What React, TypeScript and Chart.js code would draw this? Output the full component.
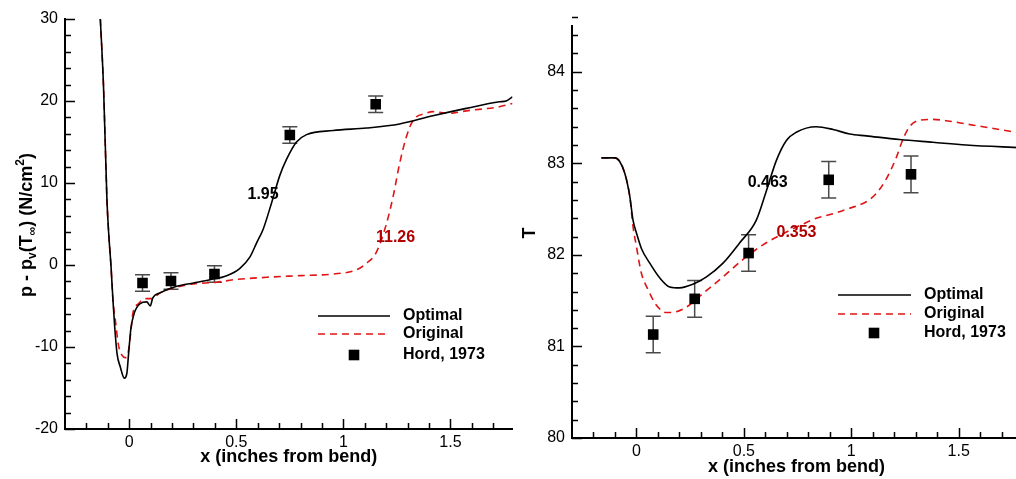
import React, { useEffect, useRef } from 'react';
import { Chart, registerables } from 'chart.js';

Chart.register(...registerables);

const FONT = '"Liberation Sans", Arial, Helvetica, sans-serif';
const RED = '#e01414';
const DARK_RED = '#b00000';

// ---- Pressure panel: p - p_v(T_inf) (N/cm^2) versus x (inches from bend)
const P_OPT_X = [-0.135, -0.12, -0.104, -0.096, -0.085, -0.076, -0.068, -0.057, -0.042, -0.023, -0.011, -0.003, 0.008, 0.023, 0.051, 0.082, 0.098, 0.11, 0.144, 0.222, 0.3, 0.377, 0.455, 0.517, 0.564, 0.595, 0.626, 0.665, 0.703, 0.735, 0.781, 0.828, 0.952, 1.108, 1.263, 1.418, 1.574, 1.729, 1.76, 1.79];
const P_OPT_Y = [30, 21.7, 7.9, 3.9, -0.2, -4.3, -7.5, -10.8, -12.4, -13.8, -13.2, -10.8, -7.7, -5.9, -4.7, -4.5, -5.0, -4.0, -3.4, -2.6, -2.2, -1.8, -1.3, -0.4, 1.0, 2.7, 4.4, 7.6, 10.9, 12.9, 15.0, 15.9, 16.4, 16.7, 17.2, 18.2, 19.1, 19.9, 20.0, 20.5];
const P_ORIG_X = [-0.135, -0.12, -0.104, -0.096, -0.085, -0.076, -0.065, -0.05, -0.034, -0.019, -0.006, 0.005, 0.017, 0.044, 0.075, 0.106, 0.144, 0.222, 0.3, 0.409, 0.487, 0.642, 0.797, 0.952, 1.06, 1.108, 1.155, 1.201, 1.232, 1.263, 1.294, 1.325, 1.387, 1.418, 1.496, 1.574, 1.729, 1.79];
const P_ORIG_Y = [30, 21.7, 7.9, 3.9, -0.2, -4.3, -6.7, -9.8, -11.0, -11.3, -10.8, -8.7, -5.9, -4.7, -4.1, -4.1, -3.4, -2.7, -2.3, -2.1, -1.8, -1.5, -1.3, -1.1, -0.6, 0.2, 1.6, 5.0, 8.3, 12.4, 15.6, 17.6, 18.5, 18.7, 18.5, 18.8, 19.3, 19.7];
const P_HORD_X = [0.062, 0.195, 0.398, 0.75, 1.151];
const P_HORD_Y = [-2.2, -1.95, -1.1, 15.85, 19.6];
const P_HORD_ERR = [1.0, 1.0, 1.0, 1.0, 1.0];
const P_Y_TICKS = [-20, -10, 0, 10, 20, 30];

// ---- Temperature panel: T versus x (inches from bend)
const T_OPT_X = [-0.163, -0.1, -0.078, -0.054, -0.031, -0.016, 0.0, 0.023, 0.062, 0.108, 0.155, 0.201, 0.263, 0.326, 0.403, 0.48, 0.558, 0.605, 0.651, 0.698, 0.744, 0.837, 0.915, 0.992, 1.07, 1.225, 1.38, 1.535, 1.79];
const T_OPT_Y = [83.06, 83.06, 83.02, 82.89, 82.64, 82.38, 82.24, 82.07, 81.91, 81.75, 81.65, 81.64, 81.68, 81.76, 81.91, 82.13, 82.38, 82.7, 83.03, 83.25, 83.34, 83.4, 83.37, 83.32, 83.3, 83.26, 83.23, 83.2, 83.17];
const T_ORIG_X = [-0.163, -0.1, -0.078, -0.054, -0.031, -0.016, 0.0, 0.023, 0.054, 0.093, 0.14, 0.186, 0.233, 0.31, 0.403, 0.496, 0.589, 0.682, 0.76, 0.837, 0.915, 0.992, 1.07, 1.116, 1.163, 1.209, 1.24, 1.271, 1.318, 1.38, 1.458, 1.535, 1.613, 1.79];
const T_ORIG_Y = [83.06, 83.06, 83.02, 82.89, 82.64, 82.31, 82.09, 81.8, 81.62, 81.45, 81.37, 81.38, 81.43, 81.58, 81.76, 81.95, 82.11, 82.23, 82.32, 82.4, 82.45, 82.51, 82.58, 82.67, 82.83, 83.06, 83.26, 83.4, 83.47, 83.48, 83.46, 83.43, 83.4, 83.33];
const T_HORD_X = [0.078, 0.271, 0.522, 0.895, 1.278];
const T_HORD_Y = [81.13, 81.52, 82.02, 82.82, 82.88];
const T_HORD_ERR = [0.2, 0.2, 0.2, 0.2, 0.2];
const T_Y_TICKS = [80, 81, 82, 83, 84];

const X_TICKS = [0, 0.5, 1, 1.5];
const LEGEND_LABELS = ['Optimal', 'Original', 'Hord, 1973'];

type Label = { x: number; y: number; text: string; color: string };
type TitlePiece = { text: string; size: number; shift: number };

type PanelSpec = {
  width: number;
  optX: number[]; optY: number[];
  origX: number[]; origY: number[];
  hordX: number[]; hordY: number[]; hordErr: number[];
  yMin: number; yMax: number; yTicks: number[]; yMinorStep: number;
  labels: Label[];
  yTitle: TitlePiece[];
  layout: {
    padTop: number; padRight: number; yAxisWidth: number; xAxisHeight: number;
    xTitleY: number; yTitleX: number; yTitleY: number; yTitleCentered: boolean;
    legendLine: [number, number]; legendMarkerX: number; legendTextX: number; legendY: number[];
  };
};

const zip = (xs: number[], ys: number[]) => xs.map((x, i) => ({ x, y: ys[i] }));

function makeDecor(p: PanelSpec) {
  return {
    id: 'decor',
    beforeDatasetsDraw(chart: any) {
      // error bars on the measured points
      const { ctx, scales } = chart;
      const xs = scales.x, ys = scales.y;
      ctx.save();
      ctx.strokeStyle = '#4a4a4a';
      ctx.lineWidth = 1.5;
      p.hordX.forEach((hx, i) => {
        const px = xs.getPixelForValue(hx);
        const top = ys.getPixelForValue(p.hordY[i] + p.hordErr[i]);
        const bot = ys.getPixelForValue(p.hordY[i] - p.hordErr[i]);
        ctx.beginPath();
        ctx.moveTo(px, top); ctx.lineTo(px, bot);
        ctx.moveTo(px - 7.5, top); ctx.lineTo(px + 7.5, top);
        ctx.moveTo(px - 7.5, bot); ctx.lineTo(px + 7.5, bot);
        ctx.stroke();
      });
      ctx.restore();
    },
    afterDraw(chart: any) {
      const { ctx, scales, chartArea } = chart;
      const xs = scales.x, ys = scales.y;
      const L = p.layout;
      ctx.save();

      // inward tick marks
      ctx.strokeStyle = '#000';
      ctx.lineWidth = 1.5;
      ctx.beginPath();
      for (let k = -2; k <= 17; k++) {
        const v = k / 10;
        const major = k % 5 === 0;
        const px = Math.round(xs.getPixelForValue(v)) + 0.5;
        ctx.moveTo(px, chartArea.bottom);
        ctx.lineTo(px, chartArea.bottom - (major ? 10 : 6));
      }
      const nMinor = Math.round((p.yMax - p.yMin) / p.yMinorStep);
      for (let k = 0; k <= nMinor; k++) {
        const v = p.yMin + k * p.yMinorStep;
        const major = p.yTicks.some((t) => Math.abs(t - v) < 1e-6);
        const py = Math.round(ys.getPixelForValue(v)) + 0.5;
        ctx.moveTo(chartArea.left, py);
        ctx.lineTo(chartArea.left + (major ? 10 : 6), py);
      }
      ctx.stroke();

      // contour value labels
      ctx.font = `bold 16px ${FONT}`;
      ctx.textAlign = 'center';
      ctx.textBaseline = 'middle';
      p.labels.forEach((lb) => {
        ctx.fillStyle = lb.color;
        ctx.fillText(lb.text, xs.getPixelForValue(lb.x), ys.getPixelForValue(lb.y));
      });

      // legend
      const ds = chart.data.datasets;
      ctx.textAlign = 'left';
      ctx.fillStyle = '#000';
      LEGEND_LABELS.forEach((text, i) => {
        const y = L.legendY[i];
        ctx.fillStyle = '#000';
        ctx.fillText(text, L.legendTextX, y);
        if (i < 2) {
          ctx.save();
          ctx.strokeStyle = ds[i].borderColor;
          ctx.lineWidth = ds[i].borderWidth;
          ctx.setLineDash(ds[i].borderDash || []);
          ctx.beginPath();
          ctx.moveTo(L.legendLine[0], y);
          ctx.lineTo(L.legendLine[1], y);
          ctx.stroke();
          ctx.restore();
        } else {
          const s = ds[i].pointRadius * Math.SQRT1_2;
          ctx.fillRect(L.legendMarkerX - s, y - s, 2 * s, 2 * s);
        }
      });

      // x axis title
      ctx.font = `bold 18px ${FONT}`;
      ctx.textAlign = 'center';
      ctx.fillText('x (inches from bend)', (chartArea.left + chartArea.right) / 2, L.xTitleY);

      // y axis title, read bottom to top
      ctx.translate(L.yTitleX, L.yTitleY);
      ctx.rotate(-Math.PI / 2);
      ctx.textAlign = 'left';
      ctx.textBaseline = 'alphabetic';
      let total = 0;
      p.yTitle.forEach((pc) => {
        ctx.font = `bold ${pc.size}px ${FONT}`;
        total += ctx.measureText(pc.text).width;
      });
      let cx = L.yTitleCentered ? -total / 2 : 0;
      p.yTitle.forEach((pc) => {
        ctx.font = `bold ${pc.size}px ${FONT}`;
        ctx.fillText(pc.text, cx, pc.shift);
        cx += ctx.measureText(pc.text).width;
      });
      ctx.restore();
    },
  };
}

function buildConfig(p: PanelSpec): any {
  const L = p.layout;
  const tickFont = { family: FONT, size: 16 };
  return {
    type: 'scatter',
    data: {
      datasets: [
        {
          label: LEGEND_LABELS[0],
          data: zip(p.optX, p.optY),
          showLine: true,
          borderColor: '#000',
          borderWidth: 1.6,
          pointRadius: 0,
          cubicInterpolationMode: 'monotone',
          order: 2,
        },
        {
          label: LEGEND_LABELS[1],
          data: zip(p.origX, p.origY),
          showLine: true,
          borderColor: RED,
          borderWidth: 1.6,
          borderDash: [7, 5],
          pointRadius: 0,
          cubicInterpolationMode: 'monotone',
          order: 3,
        },
        {
          label: LEGEND_LABELS[2],
          data: zip(p.hordX, p.hordY),
          showLine: false,
          pointStyle: 'rect',
          pointRadius: 7.5,
          backgroundColor: '#000',
          borderColor: '#000',
          borderWidth: 0,
          order: 1,
        },
      ],
    },
    options: {
      responsive: false,
      animation: false,
      events: [],
      layout: { padding: { left: 0, top: L.padTop, right: L.padRight, bottom: 0 } },
      plugins: { legend: { display: false }, tooltip: { enabled: false } },
      scales: {
        x: {
          type: 'linear',
          min: -0.3,
          max: 1.79,
          afterFit: (s: any) => { s.height = L.xAxisHeight; },
          afterBuildTicks: (s: any) => { s.ticks = X_TICKS.map((v) => ({ value: v })); },
          grid: { display: false, drawTicks: false },
          border: { display: true, color: '#000', width: 2 },
          ticks: { color: '#000', font: tickFont, padding: 4, maxRotation: 0, autoSkip: false, callback: (v: number) => String(v) },
        },
        y: {
          type: 'linear',
          min: p.yMin,
          max: p.yMax,
          afterFit: (s: any) => { s.width = L.yAxisWidth; },
          afterBuildTicks: (s: any) => { s.ticks = p.yTicks.map((v) => ({ value: v })); },
          grid: { display: false, drawTicks: false },
          border: { display: true, color: '#000', width: 2 },
          ticks: { color: '#000', font: tickFont, padding: 7, autoSkip: false, callback: (v: number) => String(v) },
        },
      },
    },
    plugins: [makeDecor(p)],
  };
}

const PRESSURE: PanelSpec = {
  width: 520,
  optX: P_OPT_X, optY: P_OPT_Y,
  origX: P_ORIG_X, origY: P_ORIG_Y,
  hordX: P_HORD_X, hordY: P_HORD_Y, hordErr: P_HORD_ERR,
  yMin: -20, yMax: 30, yTicks: P_Y_TICKS, yMinorStep: 2,
  labels: [
    { x: 0.625, y: 8.6, text: '1.95', color: '#000' },
    { x: 1.244, y: 3.3, text: '11.26', color: DARK_RED },
  ],
  yTitle: [
    { text: 'p - p', size: 18, shift: 0 },
    { text: 'v', size: 12, shift: 4 },
    { text: '(T', size: 18, shift: 0 },
    { text: '∞', size: 12, shift: 4 },
    { text: ') (N/cm', size: 18, shift: 0 },
    { text: '2', size: 12, shift: -8 },
    { text: ')', size: 18, shift: 0 },
  ],
  layout: {
    padTop: 19, padRight: 7, yAxisWidth: 65, xAxisHeight: 50,
    xTitleY: 457, yTitleX: 32, yTitleY: 297, yTitleCentered: false,
    legendLine: [318, 390], legendMarkerX: 354, legendTextX: 403, legendY: [316, 334, 355],
  },
};

const TEMPERATURE: PanelSpec = {
  width: 520,
  optX: T_OPT_X, optY: T_OPT_Y,
  origX: T_ORIG_X, origY: T_ORIG_Y,
  hordX: T_HORD_X, hordY: T_HORD_Y, hordErr: T_HORD_ERR,
  yMin: 80, yMax: 84.5, yTicks: T_Y_TICKS, yMinorStep: 0.2,
  labels: [
    { x: 0.611, y: 82.79, text: '0.463', color: '#000' },
    { x: 0.745, y: 82.24, text: '0.353', color: DARK_RED },
  ],
  yTitle: [{ text: 'T', size: 18, shift: 0 }],
  layout: {
    padTop: 26, padRight: 19, yAxisWidth: 52, xAxisHeight: 41,
    xTitleY: 467, yTitleX: 15, yTitleY: 233, yTitleCentered: true,
    legendLine: [318, 391], legendMarkerX: 354, legendTextX: 404, legendY: [295, 314, 333],
  },
};

function Panel({ spec, left }: { spec: PanelSpec; left: number }) {
  const ref = useRef<HTMLCanvasElement>(null);
  useEffect(() => {
    const chart = new Chart(ref.current as HTMLCanvasElement, buildConfig(spec));
    return () => chart.destroy();
  }, [spec]);
  return (
    <canvas
      ref={ref}
      width={spec.width}
      height={479}
      style={{ position: 'absolute', left, top: 0, width: spec.width, height: 479 }}
    />
  );
}

export default function App() {
  return (
    <div style={{ position: 'fixed', left: 0, top: 0, width: 1016, height: 479, overflow: 'hidden', background: '#fff' }}>
      <Panel spec={PRESSURE} left={0} />
      <Panel spec={TEMPERATURE} left={520} />
    </div>
  );
}
